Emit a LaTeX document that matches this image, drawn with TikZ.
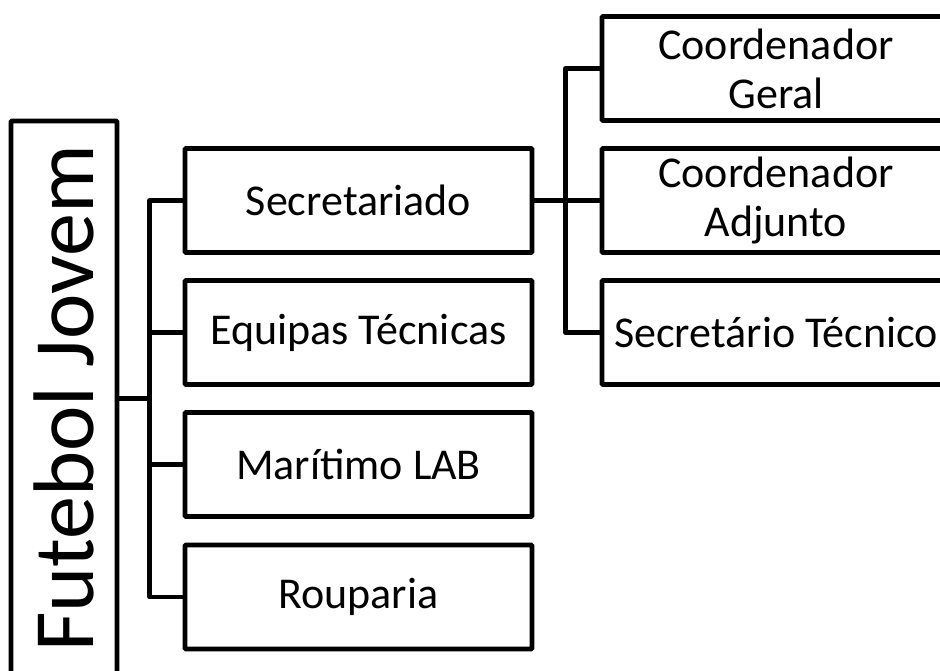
\documentclass[tikz,border=0pt]{standalone}
\usepackage{fontspec}
\setmainfont{Carlito}
\begin{document}
\begin{tikzpicture}[x=1pt,y=1pt,
  box/.style={draw=black, line width=4.8pt, rounded corners=1pt, fill=white,
    minimum width=347pt, minimum height=104pt, inner sep=0pt, align=center,
    font=\fontsize{44}{49}\selectfont},
  link/.style={draw=black, line width=4.8pt, line join=round}]
\useasboundingbox (0,0) rectangle (940,670);
\fill[white] (0,0) rectangle (940,670);
\clip (0,0) rectangle (940,670);
% root
\node[draw=black, line width=4.8pt, rounded corners=1pt, rotate=90,
  minimum width=555pt, minimum height=106pt, inner sep=0pt,
  font=\fontsize{86}{92}\selectfont] (fj) at (64,271.5) {Futebol Jovem};
% level 1
\node[box] (sec) at (358.5,469.5) {Secretariado};
\node[box] (eq)  at (358.5,337.5) {Equipas Técnicas};
\node[box] (mar) at (358.5,205.5) {Marítimo LAB};
\node[box] (rou) at (358.5,73)    {Rouparia};
% level 2
\node[box, minimum width=348pt] (cg) at (776,601.5) {Coordenador\\Geral};
\node[box, minimum width=348pt] (ca) at (776,469.5) {Coordenador\\Adjunto};
\node[box, minimum width=348pt] (st) at (776,337.5) {Secretário Técnico};
% connectors
\draw[link] (fj.south) -- (fj.south -| 152,0);
\draw[link] (sec.west) -- ++(-33,0) |- (rou.west);
\draw[link] (eq.west) -- ++(-33,0);
\draw[link] (mar.west) -- ++(-33,0);
\draw[link] (cg.west) -- ++(-34,0) |- (st.west);
\draw[link] (sec.east) -- (ca.west);
\end{tikzpicture}
\end{document}
